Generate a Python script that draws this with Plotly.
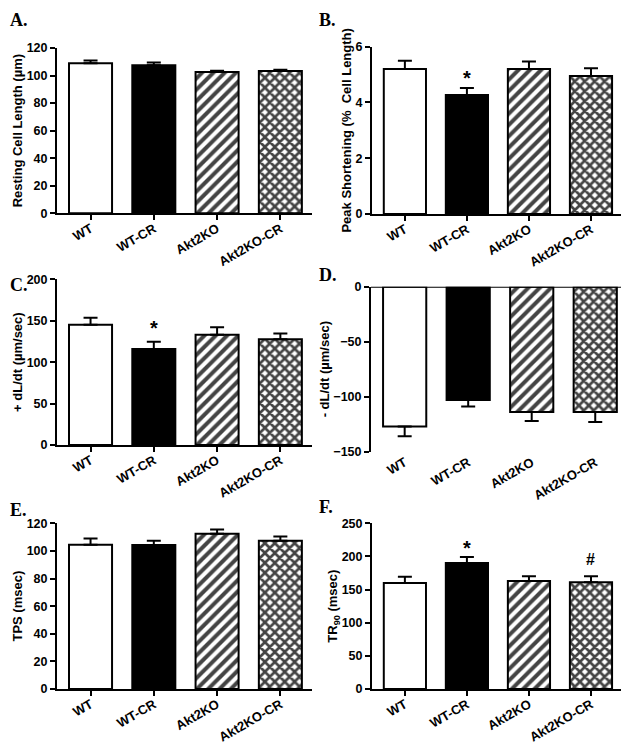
import plotly.graph_objects as go

groups = ["WT", "WT-CR", "Akt2KO", "Akt2KO-CR"]

rcl_mean = [109, 107.5, 102.5, 103.3]
rcl_sem = [2, 2, 1, 1]
ps_mean = [5.2, 4.27, 5.2, 4.95]
ps_sem = [0.3, 0.25, 0.27, 0.28]
pdl_mean = [145, 116, 133, 127.5]
pdl_sem = [8.5, 8.5, 9, 7]
ndl_mean = [-127, -103, -114, -114]
ndl_sem = [9, 6, 8, 9]
tps_mean = [104.5, 104.3, 112.5, 107.4]
tps_sem = [4.5, 3, 3, 3]
tr90_mean = [160, 190, 163, 161]
tr90_sem = [9.5, 9, 7, 9]

panels = [
    dict(letter="A.", mean=rcl_mean, sem=rcl_sem, title="Resting Cell Length (µm)", rng=[0, 120], dtick=20,
         px=(57, 312), py=(48, 213.3)),
    dict(letter="B.", mean=ps_mean, sem=ps_sem, title="Peak Shortening (%  Cell Length)", rng=[0, 6], dtick=2,
         px=(372, 622), py=(46.7, 214)),
    dict(letter="C.", mean=pdl_mean, sem=pdl_sem, title="+ dL/dt (µm/sec)", rng=[0, 200], dtick=50,
         px=(57, 312), py=(279.3, 445)),
    dict(letter="D.", mean=ndl_mean, sem=ndl_sem, title="- dL/dt (µm/sec)", rng=[-150, 0], dtick=50,
         px=(371, 627), py=(286.7, 451.7)),
    dict(letter="E.", mean=tps_mean, sem=tps_sem, title="TPS (msec)", rng=[0, 120], dtick=20,
         px=(57, 312), py=(523.3, 689)),
    dict(letter="F.", mean=tr90_mean, sem=tr90_sem, title="TR<sub>90</sub> (msec)", rng=[0, 250], dtick=50,
         px=(372, 622), py=(523.3, 689)),
]
letter_pos = [(3, 16), (317, 14), (3, 283), (317, 273), (3, 508), (317, 505)]
sig_marks = [
    (1, "*", 1, 4.87),
    (2, "*", 1, 141),
    (5, "*", 1, 212),
    (5, "#", 3, 195),
]

# page body margin offset (browser default)
OX, OY = 8, 8
W, H = 629 - OX, 750 - OY
fill_colors = ["white", "black", "white", "white"]
pattern_shapes = ["", "", "/", "x"]
pattern_solidity = [0.5, 0.5, 0.5, 0.62]
pattern_size = [8, 8, 8, 7]
font_bold = dict(family="Liberation Sans, Arial, sans-serif", color="black", weight="bold")

fig = go.Figure()
layout = dict(width=W, height=H, margin=dict(l=0, r=0, t=0, b=0, pad=0, autoexpand=False), showlegend=False,
              plot_bgcolor="white", paper_bgcolor="white", annotations=[], shapes=[])

for i, p in enumerate(panels):
    k = "" if i == 0 else str(i + 1)
    xa, ya = "x" + k, "y" + k
    neg = p["rng"][1] <= 0
    err = dict(type="data", symmetric=False, color="black", thickness=2, width=7)
    if neg:
        err["array"] = [0] * 4
        err["arrayminus"] = p["sem"]
    else:
        err["array"] = p["sem"]
        err["arrayminus"] = [0] * 4
    fig.add_trace(go.Bar(
        x=groups, y=p["mean"], xaxis=xa, yaxis=ya, width=0.68,
        marker=dict(color=fill_colors, line=dict(color="black", width=2),
                    pattern=dict(shape=pattern_shapes, fgcolor="black", bgcolor="white", fgopacity=1,
                                 size=pattern_size, solidity=pattern_solidity)),
        error_y=err,
    ))
    x0, x1 = p["px"][0] - OX, min(p["px"][1] - OX, W)
    y0, y1 = p["py"][0] - OY, p["py"][1] - OY
    layout["xaxis" + k] = dict(
        domain=[x0 / W, x1 / W], anchor=ya, range=[-0.53, 3.5], automargin=False,
        showline=not neg, linecolor="black", linewidth=2,
        ticks="" if neg else "outside", ticklen=5, tickwidth=2, tickcolor="black",
        ticklabelstandoff=-4 if not neg else 0,
        tickangle=-30, tickfont=dict(size=13, **font_bold), showgrid=False, zeroline=False,
    )
    layout["yaxis" + k] = dict(
        domain=[1 - y1 / H, 1 - y0 / H], anchor=xa, range=p["rng"], dtick=p["dtick"], automargin=False,
        showline=True, linecolor="black", linewidth=2,
        ticks="outside", ticklen=5, tickwidth=2, tickcolor="black",
        tickfont=dict(size=12.5, **font_bold), showgrid=False, zeroline=False,
        title=dict(text=p["title"], font=dict(size=13, **font_bold), standoff=1),
    )
    if neg:
        layout["shapes"].append(dict(type="line", xref=xa + " domain", yref=ya, x0=0, x1=1, y0=0, y1=0,
                                     line=dict(color="black", width=2)))
    lx, ly = letter_pos[i]
    layout["annotations"].append(dict(
        text="<b>" + p["letter"] + "</b>", x=max(lx - OX, 0) / W, y=min(1 - (ly - OY - 10) / H, 1),
        xref="paper", yref="paper",
        xanchor="left", yanchor="top", showarrow=False,
        font=dict(family="Liberation Serif, Times New Roman, serif", size=18, color="black")))

for pi, txt, gi, yv in sig_marks:
    k = "" if pi == 0 else str(pi + 1)
    layout["annotations"].append(dict(
        text="<b>" + txt + "</b>", x=groups[gi], y=yv, xref="x" + k, yref="y" + k,
        showarrow=False, yanchor="middle", font=dict(size=20 if txt == "*" else 16, **font_bold)))

fig.update_layout(**layout)
fig.write_html("out.html")
